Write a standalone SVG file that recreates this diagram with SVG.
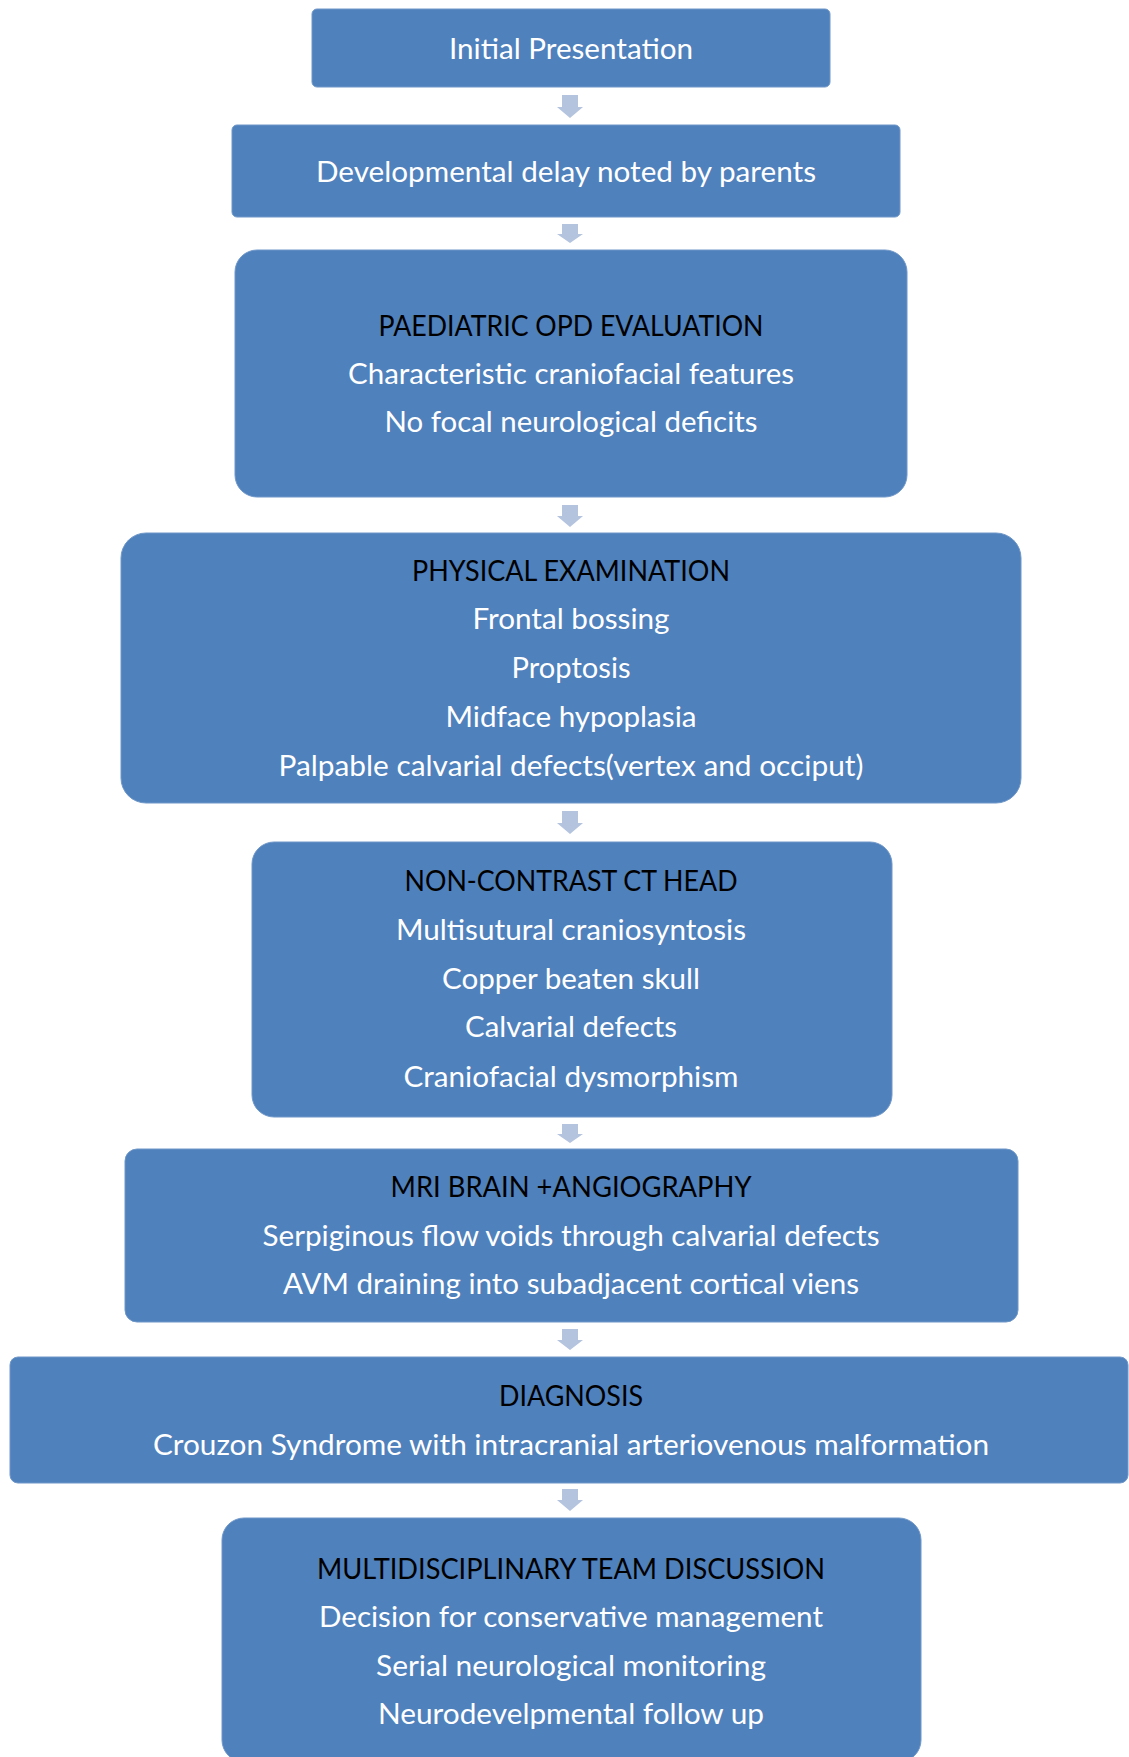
<svg xmlns="http://www.w3.org/2000/svg" width="1129" height="1757" viewBox="0 0 1129 1757">
<style>
.box{fill:#4f81bd;stroke:#6f97c8;stroke-width:1}
.t{font-family:Lato,"Open Sans","Liberation Sans",sans-serif;font-size:28px;text-anchor:middle}
.h{fill:#000000}
.w{fill:#ffffff}
.arr{fill:#b4c3de}
</style>
<rect width="1129" height="1757" fill="#ffffff"/>
<g id="connectors">
<path class="arr" d="M562,95 H578 V107 H583 L570,118 L557,107 H562 Z"/>
<path class="arr" d="M562,224 H578 V234 H583 L570,243 L557,234 H562 Z"/>
<path class="arr" d="M562,505 H578 V516 H583 L570,527 L557,516 H562 Z"/>
<path class="arr" d="M562,811 H578 V823 H583 L570,834 L557,823 H562 Z"/>
<path class="arr" d="M562,1124 H578 V1134 H583 L570,1143 L557,1134 H562 Z"/>
<path class="arr" d="M562,1329 H578 V1340 H583 L570,1350 L557,1340 H562 Z"/>
<path class="arr" d="M562,1489 H578 V1500 H583 L570,1511 L557,1500 H562 Z"/>
</g>
<g id="n1">
<rect class="box" x="312" y="9" width="518" height="78" rx="5"/>
<text class="t w" x="571" y="59" textLength="244" lengthAdjust="spacingAndGlyphs">Initial Presentation</text>
</g>
<g id="n2">
<rect class="box" x="232" y="125" width="668" height="92" rx="5"/>
<text class="t w" x="566" y="182" textLength="500" lengthAdjust="spacingAndGlyphs">Developmental delay noted by parents</text>
</g>
<g id="n3">
<rect class="box" x="235" y="250" width="672" height="247" rx="22"/>
<text class="t h" x="571" y="336" textLength="385" lengthAdjust="spacingAndGlyphs">PAEDIATRIC OPD EVALUATION</text>
<text class="t w" x="571" y="384" textLength="446" lengthAdjust="spacingAndGlyphs">Characteristic craniofacial features</text>
<text class="t w" x="571" y="432" textLength="373" lengthAdjust="spacingAndGlyphs">No focal neurological deficits</text>
</g>
<g id="n4">
<rect class="box" x="121" y="533" width="900" height="270" rx="25"/>
<text class="t h" x="571" y="581" textLength="318" lengthAdjust="spacingAndGlyphs">PHYSICAL EXAMINATION</text>
<text class="t w" x="571" y="629" textLength="197" lengthAdjust="spacingAndGlyphs">Frontal bossing</text>
<text class="t w" x="571" y="678" textLength="119" lengthAdjust="spacingAndGlyphs">Proptosis</text>
<text class="t w" x="571" y="727" textLength="251" lengthAdjust="spacingAndGlyphs">Midface hypoplasia</text>
<text class="t w" x="571" y="776" textLength="585" lengthAdjust="spacingAndGlyphs">Palpable calvarial defects(vertex and occiput)</text>
</g>
<g id="n5">
<rect class="box" x="252" y="842" width="640" height="275" rx="22"/>
<text class="t h" x="571" y="891" textLength="333" lengthAdjust="spacingAndGlyphs">NON-CONTRAST CT HEAD</text>
<text class="t w" x="571" y="940" textLength="350" lengthAdjust="spacingAndGlyphs">Multisutural craniosyntosis</text>
<text class="t w" x="571" y="989" textLength="258" lengthAdjust="spacingAndGlyphs">Copper beaten skull</text>
<text class="t w" x="571" y="1037" textLength="212" lengthAdjust="spacingAndGlyphs">Calvarial defects</text>
<text class="t w" x="571" y="1087" textLength="335" lengthAdjust="spacingAndGlyphs">Craniofacial dysmorphism</text>
</g>
<g id="n6">
<rect class="box" x="125" y="1149" width="893" height="173" rx="12"/>
<text class="t h" x="571" y="1197" textLength="361" lengthAdjust="spacingAndGlyphs">MRI BRAIN +ANGIOGRAPHY</text>
<text class="t w" x="571" y="1246" textLength="617" lengthAdjust="spacingAndGlyphs">Serpiginous flow voids through calvarial defects</text>
<text class="t w" x="571" y="1294" textLength="576" lengthAdjust="spacingAndGlyphs">AVM draining into subadjacent cortical viens</text>
</g>
<g id="n7">
<rect class="box" x="10" y="1357" width="1118" height="126" rx="8"/>
<text class="t h" x="571" y="1406" textLength="144" lengthAdjust="spacingAndGlyphs">DIAGNOSIS</text>
<text class="t w" x="571" y="1455" textLength="836" lengthAdjust="spacingAndGlyphs">Crouzon Syndrome with intracranial arteriovenous malformation</text>
</g>
<g id="n8">
<rect class="box" x="222" y="1518" width="699" height="244" rx="22"/>
<text class="t h" x="571" y="1579" textLength="508" lengthAdjust="spacingAndGlyphs">MULTIDISCIPLINARY TEAM DISCUSSION</text>
<text class="t w" x="571" y="1627" textLength="504" lengthAdjust="spacingAndGlyphs">Decision for conservative management</text>
<text class="t w" x="571" y="1676" textLength="390" lengthAdjust="spacingAndGlyphs">Serial neurological monitoring</text>
<text class="t w" x="571" y="1724" textLength="386" lengthAdjust="spacingAndGlyphs">Neurodevelpmental follow up</text>
</g>
</svg>
